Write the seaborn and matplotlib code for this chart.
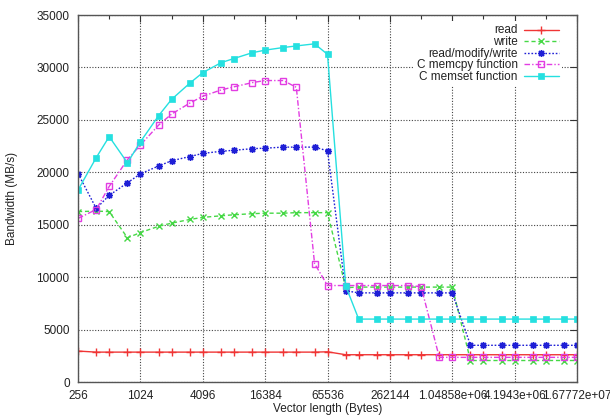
import matplotlib
matplotlib.use("Agg")
import matplotlib.pyplot as plt
import seaborn as sns
import pandas as pd
from matplotlib.ticker import FixedLocator, NullFormatter

sns.set_style("white")
plt.rcParams['font.family'] = ['Liberation Sans', 'DejaVu Sans']

sizes = [256, 384, 512, 768, 1024, 1536, 2048, 3072, 4096, 6144, 8192, 12288,
         16384, 24576, 32768, 49152, 65536, 98304, 131072, 196608, 262144,
         393216, 524288, 786432, 1048576, 1572864, 2097152, 3145728, 4194304,
         6291456, 8388608, 12582912, 16777216]

read = [2950, 2850, 2850, 2850, 2850, 2850, 2850, 2850, 2850, 2850, 2850, 2850,
        2850, 2850, 2850, 2850, 2880, 2600, 2600, 2600, 2600, 2600, 2600, 2600,
        2600, 2600, 2600, 2600, 2600, 2600, 2600, 2600, 2600]
write = [16250, 16300, 16250, 13750, 14250, 14850, 15150, 15500, 15700, 15850,
         15950, 16050, 16100, 16100, 16150, 16150, 16150, 9000, 9050, 9050, 9050,
         9050, 9050, 9050, 9050, 2050, 2050, 2050, 2050, 2050, 2050, 2050, 2050]
rmw = [19880, 16550, 17800, 19000, 19850, 20600, 21100, 21500, 21800, 22000,
       22100, 22250, 22300, 22400, 22400, 22400, 22050, 8700, 8500, 8500, 8500,
       8500, 8500, 8500, 8500, 3500, 3500, 3500, 3500, 3500, 3500, 3500, 3500]
memcpy = [15600, 16450, 18650, 21200, 22600, 24500, 25550, 26600, 27250, 27850,
          28150, 28550, 28750, 28750, 28100, 11300, 9200, 9200, 9200, 9200, 9200,
          9200, 9100, 2350, 2350, 2350, 2350, 2350, 2350, 2350, 2350, 2350, 2350]
memset = [18300, 21400, 23400, 20900, 22900, 25400, 26950, 28500, 29500, 30450,
          30850, 31400, 31650, 31900, 32050, 32250, 31250, 9150, 6000, 6000, 6000,
          6000, 6000, 6000, 6000, 6000, 6000, 6000, 6000, 6000, 6000, 6000, 6000]

series_names = ["read", "write", "read/modify/write", "C memcpy function", "C memset function"]
series_values = [read, write, rmw, memcpy, memset]

x_ticks = [256, 1024, 4096, 16384, 65536, 262144, 1048576, 4194304, 16777216]
x_tick_labels = ["256", "1024", "4096", "16384", "65536", "262144",
                 "1.04858e+06", "4.1943e+06", "1.67772e+07"]
y_ticks = [0, 5000, 10000, 15000, 20000, 25000, 30000, 35000]

styles = {
    "read": dict(color="#f03535", linestyle="-", marker="+", markersize=6,
                 markerfacecolor="none", markeredgecolor="#f03535", markeredgewidth=1.0),
    "write": dict(color="#45d845", linestyle=(0, (3, 2)), marker="x", markersize=5,
                  markerfacecolor="none", markeredgecolor="#45d845", markeredgewidth=1.0),
    "read/modify/write": dict(color="#1f1fd6", linestyle=(0, (1.2, 1.3)), marker=(8, 2, 0),
                              markersize=5, markerfacecolor="none", markeredgecolor="#1f1fd6",
                              markeredgewidth=1.0),
    "C memcpy function": dict(color="#e23de2", linestyle=(0, (4, 1.5, 1, 1.5)), marker="s",
                              markersize=5, markerfacecolor="none", markeredgecolor="#e23de2",
                              markeredgewidth=1.0),
    "C memset function": dict(color="#25e0e0", linestyle="-", marker="s", markersize=5,
                              markerfacecolor="#25e0e0", markeredgecolor="#25e0e0",
                              markeredgewidth=0.5),
}

fig = plt.figure(figsize=(6.1, 4.15), dpi=100)
ax = fig.add_axes([78 / 610, 1 - 382 / 415, (577 - 78) / 610, (382 - 15) / 415])

for name, vals in zip(series_names, series_values):
    df = pd.DataFrame({"size": sizes, "bw": vals})
    sns.lineplot(data=df, x="size", y="bw", ax=ax, label=name, linewidth=1.0,
                 **styles[name])

ax.set_xscale("log", base=2)
ax.set_xlim(256, 16777216)
ax.set_ylim(0, 35000)
ax.xaxis.set_major_locator(FixedLocator(x_ticks))
ax.set_xticklabels(x_tick_labels)
ax.xaxis.set_minor_locator(FixedLocator([t * 2 for t in x_ticks[:-1]]))
ax.xaxis.set_minor_formatter(NullFormatter())
ax.set_yticks(y_ticks)
ax.set_yticklabels([str(v) for v in y_ticks])

ax.tick_params(axis="both", which="both", direction="in", top=True, right=True,
               labelsize=8.5, colors="#333333", labelcolor="#222222")
ax.tick_params(axis="both", which="major", length=5, width=0.8)
ax.tick_params(axis="x", which="minor", length=3, width=0.8)
ax.tick_params(axis="x", which="major", pad=6)
ax.tick_params(axis="y", which="major", pad=6)

ax.grid(True, which="major", color="#444444", linestyle=(0, (1, 1.5)), linewidth=0.8)
for s in ax.spines.values():
    s.set_color("#555555")
    s.set_linewidth(1.0)

ax.set_xlabel("Vector length (Bytes)", fontsize=8.5, color="#222222")
ax.set_ylabel("Bandwidth (MB/s)", fontsize=8.5, color="#222222")
ax.xaxis.set_label_coords(0.5, -0.056)
ax.yaxis.set_label_coords(-0.12, 0.5)

leg = ax.legend(loc="upper right", bbox_to_anchor=(0.982, 1.0), markerfirst=False,
                frameon=True, framealpha=1.0, facecolor="white", edgecolor="none",
                fontsize=8.5, handlelength=2.9, handletextpad=0.55, labelspacing=-0.04,
                handleheight=0.5, borderpad=0.3, fancybox=False)
for t in leg.get_texts():
    t.set_color("#222222")

fig.savefig("out.png", dpi=100, facecolor="white")
